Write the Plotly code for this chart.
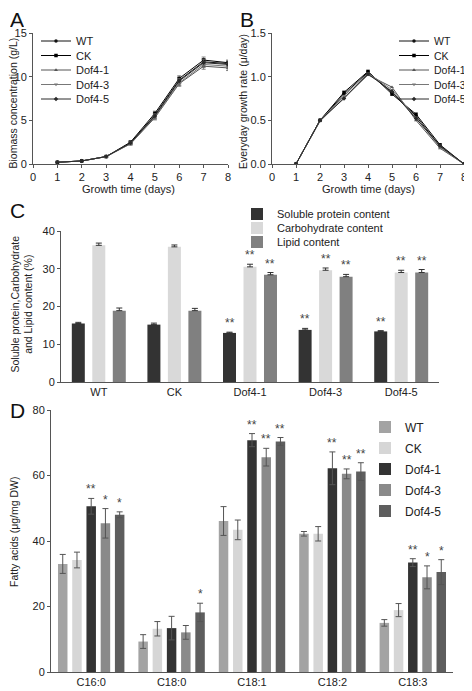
import plotly.graph_objects as go

days = [1, 2, 3, 4, 5, 6, 7, 8]
strains = ["WT", "CK", "Dof4-1", "Dof4-3", "Dof4-5"]

biomass = {
    "WT":     [0.2, 0.35, 0.85, 2.40, 5.6, 9.6, 11.7, 11.5],
    "CK":     [0.2, 0.35, 0.85, 2.50, 5.8, 9.8, 11.9, 11.6],
    "Dof4-1": [0.2, 0.35, 0.85, 2.30, 5.3, 9.2, 11.2, 11.0],
    "Dof4-3": [0.2, 0.35, 0.85, 2.35, 5.4, 9.3, 11.4, 11.2],
    "Dof4-5": [0.2, 0.35, 0.85, 2.40, 5.5, 9.5, 11.6, 11.4],
}
biomass_err = [0.03, 0.05, 0.08, 0.15, 0.25, 0.3, 0.35, 0.3]

growth = {
    "WT":     [0, 0.50, 0.80, 1.05, 0.82, 0.55, 0.20, 0],
    "CK":     [0, 0.50, 0.82, 1.06, 0.80, 0.57, 0.22, 0],
    "Dof4-1": [0, 0.49, 0.76, 1.02, 0.88, 0.50, 0.18, 0],
    "Dof4-3": [0, 0.50, 0.78, 1.04, 0.85, 0.53, 0.19, 0],
    "Dof4-5": [0, 0.50, 0.75, 1.03, 0.83, 0.52, 0.21, 0],
}

# Panel C
comp_names = ["Soluble protein content", "Carbohydrate content", "Lipid content"]
protein = [15.5, 15.2, 13.0, 13.8, 13.4]
protein_err = [0.3, 0.4, 0.2, 0.4, 0.2]
protein_sig = ["", "", "**", "**", "**"]
carb = [36.2, 35.8, 30.5, 29.6, 29.0]
carb_err = [0.6, 0.5, 0.7, 0.6, 0.6]
carb_sig = ["", "", "**", "**", "**"]
lipid = [18.9, 18.9, 28.4, 27.9, 29.0]
lipid_err = [0.7, 0.6, 0.6, 0.6, 0.8]
lipid_sig = ["", "", "**", "**", "**"]

# Panel D
fatty = ["C16:0", "C18:0", "C18:1", "C18:2", "C18:3"]
fa_vals = {
    "WT":     [33.0, 9.3, 46.1, 42.2, 15.0],
    "CK":     [34.2, 13.2, 43.4, 42.2, 18.9],
    "Dof4-1": [50.6, 13.4, 70.8, 62.2, 33.4],
    "Dof4-3": [45.4, 12.1, 65.6, 60.5, 28.9],
    "Dof4-5": [48.0, 18.2, 70.4, 61.2, 30.5],
}
fa_err = {
    "WT":     [2.9, 2.1, 4.4, 0.7, 1.0],
    "CK":     [2.4, 2.2, 3.0, 2.2, 2.0],
    "Dof4-1": [2.4, 3.6, 2.0, 5.0, 1.2],
    "Dof4-3": [4.5, 2.1, 2.7, 1.5, 3.5],
    "Dof4-5": [0.9, 2.8, 1.2, 2.7, 3.8],
}
fa_sig = {
    "WT":     ["", "", "", "", ""],
    "CK":     ["", "", "", "", ""],
    "Dof4-1": ["**", "", "**", "**", "**"],
    "Dof4-3": ["*", "", "**", "**", "*"],
    "Dof4-5": ["*", "*", "**", "**", "*"],
}

FONT = "Liberation Sans, Arial, sans-serif"
TXT = "#222222"
AX = "#555555"

# page has an 8px body margin: figure is sized so that it fits the window
OFF = 8
W, H = 472 - OFF, 691 - OFF


def fx(px):
    return (px - OFF) / W


def fy(py):
    return 1 - (py - OFF) / H


line_colors = ["#111111", "#000000", "#555555", "#777777", "#2a2a2a"]
symbols = ["circle", "square", "triangle-up", "triangle-down", "diamond"]
fa_colors = ["#a3a3a3", "#d6d6d6", "#333333", "#8a8a8a", "#5e5e5e"]
comp_colors = ["#333333", "#d9d9d9", "#808080"]

legends = {}
leg_n = [0]


def new_legend(text_px, row_py, size=11):
    leg_n[0] += 1
    key = "legend" if leg_n[0] == 1 else "legend%d" % leg_n[0]
    legends[key] = dict(x=fx(text_px - 42), y=fy(row_py), xanchor="left", yanchor="middle",
                        bgcolor="rgba(0,0,0,0)", tracegroupgap=0, itemwidth=30,
                        font=dict(size=size, color=TXT, family=FONT))
    return key


fig = go.Figure()

rows_line = [41, 55.5, 70, 84.5, 99]

# Panel A
for i, s in enumerate(strains):
    fig.add_trace(go.Scatter(
        x=days, y=biomass[s], name=s, mode="lines+markers",
        line=dict(color=line_colors[i], width=1),
        marker=dict(symbol=symbols[i], size=3.5, color=line_colors[i]),
        error_y=dict(type="data", array=biomass_err, color="#666666", thickness=0.8, width=2),
        xaxis="x", yaxis="y", legend=new_legend(78, rows_line[i])))

# Panel B
for i, s in enumerate(strains):
    fig.add_trace(go.Scatter(
        x=days, y=growth[s], name=s, mode="lines+markers",
        line=dict(color=line_colors[i], width=1),
        marker=dict(symbol=symbols[i], size=3.5, color=line_colors[i]),
        xaxis="x2", yaxis="y2", legend=new_legend(436, rows_line[i], size=10.5)))

# Panel C
c_offsets = [-0.271, 0.0, 0.271]
c_width = 0.172
c_data = [(protein, protein_err, protein_sig), (carb, carb_err, carb_sig), (lipid, lipid_err, lipid_sig)]
rowsC = [214, 228, 242]
xs = list(range(len(strains)))
annotations = []
for k, (vals, errs, sigs) in enumerate(c_data):
    fig.add_trace(go.Bar(
        x=xs, y=vals, name=comp_names[k], width=c_width,
        offset=c_offsets[k] - c_width / 2,
        marker=dict(color=comp_colors[k], line=dict(width=0)),
        error_y=dict(type="data", array=errs, symmetric=False, arrayminus=[0] * 5,
                     color="#333333", thickness=1, width=3),
        xaxis="x3", yaxis="y3", legend=new_legend(279, rowsC[k])))
    for j, sg in enumerate(sigs):
        if sg:
            annotations.append(dict(x=xs[j] + c_offsets[k], y=vals[j] + errs[j], xref="x3", yref="y3",
                                    text=sg, showarrow=False, yanchor="bottom", yshift=0,
                                    font=dict(size=12, color="#444444", family=FONT)))

# Panel D
d_offsets = [-0.354, -0.177, 0.0, 0.177, 0.354]
d_width = 0.118
rowsD = [427, 448, 469, 490, 511]
for k, s in enumerate(strains):
    fig.add_trace(go.Bar(
        x=xs, y=fa_vals[s], name=s, width=d_width,
        offset=d_offsets[k] - d_width / 2,
        marker=dict(color=fa_colors[k], line=dict(width=0)),
        error_y=dict(type="data", array=fa_err[s], color="#555555", thickness=1, width=3),
        xaxis="x4", yaxis="y4", legend=new_legend(407, rowsD[k], size=12)))
    for j, sg in enumerate(fa_sig[s]):
        if sg:
            annotations.append(dict(x=xs[j] + d_offsets[k], y=fa_vals[s][j] + fa_err[s][j], xref="x4", yref="y4",
                                    text=sg, showarrow=False, yanchor="bottom", yshift=0,
                                    font=dict(size=12, color="#444444", family=FONT)))

# panel letters
for lbl, px, py in [("A", 8, 8), ("B", 238, 8), ("C", 8, 199), ("D", 8, 399)]:
    annotations.append(dict(text=lbl, x=fx(px), y=fy(py), xref="paper", yref="paper",
                            xanchor="left", yanchor="top", height=18, valign="middle",
                            showarrow=False, font=dict(size=21, color="#111111", family=FONT)))

# axis titles
axis_titles = [
    ("Growth time (days)", 128, 189, 0, 11),
    ("Growth time (days)", 368, 189, 0, 11),
    ("Biomass concentration (g/L)", 12.5, 103, -90, 10.5),
    ("Everyday growth rate (μ/day)", 243, 102, -90, 10.5),
    ("Soluble protein,Carbohydrate<br>and Lipid content (%)", 21.5, 304, -90, 10.5),
    ("Fatty acids (μg/mg DW)", 14, 532, -90, 10.5),
]
for txt, px, py, ang, sz in axis_titles:
    annotations.append(dict(text=txt, x=fx(px), y=fy(py), xref="paper", yref="paper",
                            xanchor="center", yanchor="middle", textangle=ang,
                            showarrow=False, font=dict(size=sz, color=TXT, family=FONT)))

axis_common = dict(showline=True, linecolor=AX, linewidth=1, ticks="outside", tickcolor=AX,
                   ticklen=3, showgrid=False, zeroline=False, automargin=False,
                   tickfont=dict(size=11, color=TXT, family=FONT))
cat_axis = dict(showline=True, linecolor=AX, linewidth=1, ticks="", showgrid=False,
                zeroline=False, automargin=False, tickfont=dict(size=11, color=TXT, family=FONT))

fig.update_layout(
    width=W, height=H,
    margin=dict(l=0, r=0, t=0, b=0),
    paper_bgcolor="white", plot_bgcolor="white",
    barmode="overlay",
    showlegend=True,
    font=dict(family=FONT, color=TXT, size=11),
    annotations=annotations,
    xaxis=dict(domain=[fx(33), fx(228)], range=[0, 8], dtick=1, anchor="y", **axis_common),
    yaxis=dict(domain=[fy(164), fy(33)], range=[0, 15], dtick=5, anchor="x", **axis_common),
    xaxis2=dict(domain=[fx(272), fx(464)], range=[0, 8], dtick=1, anchor="y2", **axis_common),
    yaxis2=dict(domain=[fy(164), fy(33)], range=[0, 1.5], dtick=0.5, tickformat=".1f", anchor="x2",
                **axis_common),
    xaxis3=dict(domain=[fx(61), fx(439)], range=[-0.5, 4.5], anchor="y3",
                tickvals=xs, ticktext=strains, **cat_axis),
    yaxis3=dict(domain=[fy(382), fy(231)], range=[0, 40], dtick=10, anchor="x3", **axis_common),
    xaxis4=dict(domain=[fx(51), fx(453)], range=[-0.5, 4.5], anchor="y4",
                tickvals=xs, ticktext=fatty, **cat_axis),
    yaxis4=dict(domain=[fy(672), fy(410)], range=[0, 80], dtick=20, anchor="x4", **axis_common),
    **legends,
)

fig.write_html("out.html")
